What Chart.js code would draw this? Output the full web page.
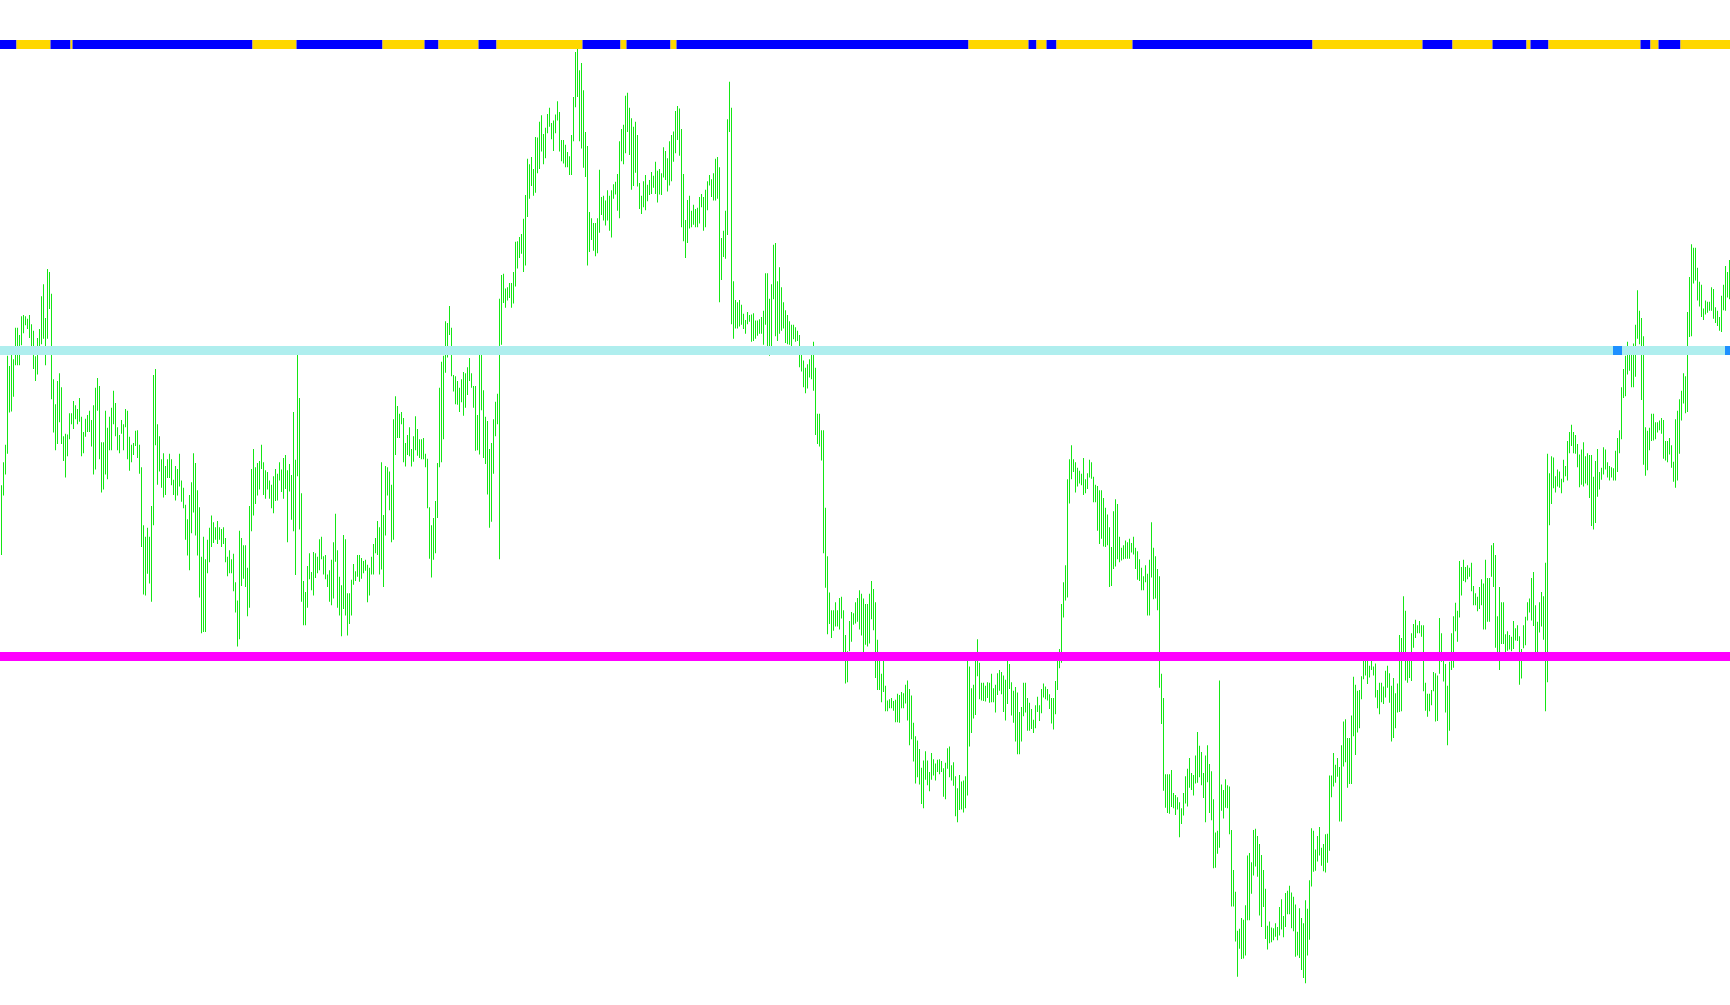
<!DOCTYPE html>
<html>
<head>
<meta charset="utf-8">
<title>bars</title>
<script src="https://cdn.jsdelivr.net/npm/chart.js@4.4.0/dist/chart.umd.min.js"></script>
<style>
  html, body { margin: 0; padding: 0; background: #ffffff; }
  #wrap { width: 1730px; height: 1005px; }
</style>
</head>
<body>
<div id="wrap"><canvas id="myChart" width="1730" height="1005"></canvas></div>
<script>
// one bar per period: high / low
var barHigh = [
  865,903,932,1079,1062,1081,1073,1125,1125,1113,
  1144,1146,1144,1140,1146,1131,1120,1078,1108,1123,
  1177,1197,1141,1222,1217,1181,1040,999,1037,1050,
  1027,946,950,949,984,984,1004,997,991,1009,
  978,953,975,981,988,973,997,1026,1042,1029,
  936,936,988,960,978,993,1021,1001,961,948,
  973,966,991,988,945,932,935,955,956,932,
  895,799,780,795,780,831,1047,1057,966,946,
  908,918,897,908,917,908,874,897,892,917,
  873,861,833,809,849,870,918,902,857,829,
  747,780,743,775,795,815,804,796,806,796,
  793,796,778,747,758,743,752,705,675,790,
  778,766,766,729,831,892,925,895,902,905,
  932,903,890,887,873,866,880,892,884,903,
  891,910,915,890,900,
  882,986,907,1081,1009,
  852,707,689,732,753,722,755,753,747,776,
  780,748,750,718,725,742,771,818,758,714,
  700,783,776,687,687,709,735,723,750,750,
  745,740,742,734,729,747,768,778,806,796,
  903,816,897,895,888,866,974,1012,996,983,
  986,976,935,948,961,925,946,979,958,941,
  941,943,917,909,829,799,811,839,902,1026,
  1069,1079,1136,1133,1161,1125,1047,1045,1037,1026,
  1040,1052,1050,1060,1075,1050,1029,1029,981,1090,
  1089,1022,978,971,925,935,974,1003,1016,1173,
  1212,1214,1190,1192,1199,1199,1217,1267,1268,1275,
  1280,1305,1344,1404,1395,1407,1387,1440,1439,1465,
  1476,1445,1455,1478,1488,1463,1467,1477,1499,1481,
  1435,1435,1427,1415,1408,1443,1506,1580,1585,
  1550,1562,1517,1448,1425,1316,1306,1298,1298,1306,1386,
  1341,1343,1335,1352,1343,1352,1362,1366,1379,1433,
  1453,1460,1508,1513,1488,1471,1457,1465,1443,1364,
  1343,1367,1377,1361,1369,1382,1376,1399,1384,1387,
  1380,1423,1417,1405,1433,1443,1449,1483,1491,1487,
  1453,1379,1303,1336,1343,1318,1328,1321,1323,1341,
  1346,1341,1353,1367,1377,1370,1380,1404,1407,1390,
  1273,1285,1318,1469,1531,1488,1202,1171,1167,1171,
  1163,1148,1138,1151,1146,1147,1149,1137,1137,1139,
  1143,1153,1215,1215,1173,1197,1262,1265,1202,1225,
  1192,1167,1154,1146,1136,1130,1130,1126,1120,1113,
  1093,1071,1059,1065,1073,1093,1102,1059,983,983,
  956,956,828,748,688,659,659,672,659,679,
  681,659,618,591,641,656,654,672,679,692,
  686,678,669,
  669,686,707,694,672,610,575,
  554,575,534,510,512,514,509,511,521,519,
  524,522,536,543,529,518,473,451,444,430,
  399,411,426,411,392,423,413,406,412,413,
  410,398,407,431,434,403,408,385,365,387,
  376,378,385,577,566,530,536,577,611,572,
  539,539,534,540,539,554,530,536,555,560,
  557,551,544,578,570,540,526,532,523,491,
  499,539,539,514,506,496,478,502,516,502,
  529,538,533,529,520,514,514,542,577,595,
  669,705,733,875,908,931,908,903,894,889,
  884,910,875,885,907,903,879,866,864,857,
  857,844,828,817,796,763,822,842,834,780,
  762,766,774,771,777,770,780,762,756,743,
  729,715,733,719,742,804,762,
  748,727,715,
  554,514,388,388,388,395,357,354,350,342,
  332,357,385,397,415,390,387,419,458,435,
  425,390,419,436,405,393,347,292,295,543,
  371,362,380,370,368,296,230,194,130,133,
  151,148,172,254,258,243,296,298,286,273,
  255,230,199,138,145,135,134,142,136,169,
  182,154,192,196,204,193,186,173,128,167,
  151,142,180,166,213,299,295,264,286,301,
  267,273,289,290,386,386,423,404,415,400,
  436,475,479,448,448,485,549,536,526,527,
  550,576,576,575,567,575,566,571,527,539,
  539,533,559,567,555,534,547,522,538,618,
  613,682,658,578,575,621,636,643,634,641,
  634,634,539,521,521,527,557,555,551,646,
  621,
  579,570,534,574,621,649,671,658,740,
  730,742,730,733,729,737,699,687,681,697,
  710,703,742,712,712,766,770,750,649,697,
  672,672,619,624,618,615,641,629,634,616,
  595,634,648,672,678,712,722,667,640,672,
  689,682,737,917,885,913,911,880,891,888,
  876,907,897,938,953,965,953,948,933,916,
  924,936,913,918,915,915,879,905,925,887,
  894,928,924,903,897,895,893,922,943,956,
  1027,1057,1079,1102,1087,1088,1099,1130,1187,1153,
  1141,1111,961,955,960,983,983,969,969,972,
  976,973,938,938,943,931,904,974,988,1007,
  1021,1050,1045,1151,1209,1263,1257,1257,1224,1201,
  1196,1157,1170,1168,1168,1192,1189,1159,1153,1143,
  1178,1196,1227,1217,1237
];
var barLow = [
  750,848,883,917,985,987,1011,1063,1063,1063,
  1096,1116,1129,1123,1108,1088,1057,1037,1048,1095,
  1098,1107,1063,1107,1156,1007,952,923,933,969,
  933,905,878,913,941,966,958,974,966,970,
  913,918,945,953,953,929,883,891,988,908,
  853,858,883,875,923,923,966,946,923,918,
  950,923,961,908,889,903,915,930,910,884,
  763,685,683,719,703,673,799,931,866,888,
  861,845,849,877,877,865,849,840,848,863,
  838,827,775,749,725,786,820,782,749,680,
  621,623,623,720,738,763,770,775,768,775,
  763,768,738,715,720,720,690,655,599,611,
  699,711,697,649,663,789,815,834,848,858,
  892,849,843,858,843,827,819,839,840,873,
  854,843,859,771,855,
  808,789,717,880,792,
  673,634,634,663,710,692,683,712,720,725,
  743,718,710,697,673,667,678,739,663,650,
  616,661,650,617,636,650,701,707,714,706,
  711,720,724,672,683,718,718,753,750,718,
  726,697,782,848,824,771,775,915,943,943,
  966,903,896,915,913,896,904,923,914,910,
  908,908,895,827,744,713,742,753,811,895,
  903,941,1051,1076,1113,1045,1020,999,998,986,
  1002,980,993,1014,1037,1026,993,922,923,916,
  989,910,900,850,795,805,884,946,966,743,
  1097,1166,1158,1170,1174,1158,1165,1193,1223,1240,
  1247,1217,1228,1308,1338,1359,1343,1348,1380,1387,
  1416,1395,1405,1446,1457,1436,1417,1446,1467,1416,
  1400,1396,1390,1390,1377,1377,1433,1489,1506,
  1433,1421,1389,1374,1228,1250,1270,1252,1243,1248,1282,
  1311,1302,1294,1302,1285,1274,1338,1345,1318,1306,
  1400,1395,1413,1448,1410,1353,1359,1381,1358,1321,
  1313,1324,1319,1334,1344,1346,1356,1346,1332,1345,
  1344,1373,1369,1350,1360,1367,1399,1413,1435,1409,
  1291,1268,1240,1265,1289,1291,1295,1291,1291,1297,
  1324,1285,1291,1319,1360,1341,1335,1335,1338,1167,
  1204,1242,1239,1278,1448,1131,1107,1124,1124,1127,
  1130,1123,1115,1131,1135,1102,1103,1107,1112,1115,
  1115,1097,1130,1095,1079,1090,1172,1111,1103,1115,
  1120,1124,1100,1098,1097,1095,1106,1102,1103,1060,
  1053,1027,1017,1025,1043,1040,1021,948,933,929,
  906,753,696,619,636,613,625,632,632,627,
  645,589,538,540,591,607,635,637,640,627,
  617,589,602,
  599,604,644,626,547,527,527,
  507,524,492,492,497,497,493,474,474,473,
  497,497,505,477,436,446,409,373,383,371,
  339,332,379,370,360,379,386,378,392,388,
  392,351,347,397,383,378,369,319,309,329,
  330,325,332,353,434,456,480,486,550,512,
  510,509,508,514,506,507,507,490,519,526,
  520,491,477,504,529,485,473,442,421,421,
  442,484,490,460,460,463,456,464,491,476,
  489,515,512,510,496,472,462,487,527,563,
  572,647,675,680,835,875,887,853,863,868,
  865,849,852,859,878,876,837,837,790,768,
  777,764,763,766,697,699,727,731,743,738,
  741,743,744,744,744,754,751,727,709,707,
  692,692,705,650,650,713,677,
  678,659,531,
  471,361,333,324,323,334,332,321,330,284,
  306,320,340,335,366,362,353,373,374,383,
  370,349,309,375,324,312,233,234,257,267,
  328,315,333,332,289,170,170,112,54,100,
  83,84,89,147,147,191,221,236,219,155,
  136,169,116,99,109,111,114,120,114,122,
  132,119,136,157,157,134,129,87,89,85,
  65,52,43,89,115,203,227,229,244,254,
  237,228,226,242,262,350,368,374,384,310,
  310,401,408,366,372,372,451,420,457,464,
  512,545,551,537,548,560,551,515,497,487,
  507,504,515,531,506,442,448,464,490,491,
  492,589,543,539,547,542,597,613,621,621,
  615,525,493,483,492,502,525,475,476,554,
  574,
  541,490,436,460,560,564,624,607,647,
  683,707,705,710,714,690,667,667,657,661,
  667,627,627,640,640,714,697,597,590,560,
  603,603,589,592,594,591,595,609,608,536,
  546,596,601,642,655,642,633,590,590,622,
  632,610,492,540,799,834,860,853,863,861,
  852,870,880,873,918,930,918,917,895,862,
  866,863,868,865,844,798,792,803,846,858,
  874,883,891,878,873,878,873,873,887,918,
  941,1009,1012,1048,1054,1027,1027,1044,1107,1098,
  1006,899,881,890,923,938,939,941,952,956,
  950,909,906,903,916,894,871,861,873,917,
  972,1000,984,986,1110,1111,1198,1203,1170,1160,
  1143,1138,1147,1150,1153,1153,1140,1133,1128,1120,
  1118,1154,1153,1175,1172
];

// trend band on top: bar where each run starts, 1 = up (gold), 0 = down (blue)
var bandStart = [0, 8, 25, 35, 36, 126, 148, 191, 212, 219, 239, 248, 291, 310, 313, 335, 338,
                 484, 514, 518, 523, 528, 566, 656, 711, 726, 746, 763, 765, 774, 820, 825, 829, 840];
var bandUp = [0, 1, 0, 1, 0, 1, 0, 1, 0, 1, 0, 1, 0, 1, 0, 1, 0,
              1, 0, 1, 0, 1, 0, 1, 0, 1, 0, 1, 0, 1, 0, 1, 0, 1];

// horizontal levels and signal bars
var levelUpper = 1087.5;
var levelLower = 582.5;
var signalBars = [808, 864];

var nBars = barHigh.length;
var xMin = -0.75;
var xMax = nBars - 0.75;
var bandY = 1592.57;

var bars = [];
for (var i = 0; i < nBars; i++) {
    bars.push({x: i, y: [barLow[i], barHigh[i]]});
}

var bandPts = [];
for (var k = 0; k < bandStart.length; k++) {
    bandPts.push({x: k == 0 ? xMin : bandStart[k] - 0.5, y: bandY});
}
bandPts.push({x: xMax, y: bandY});

var signals = signalBars.map(function(b) { return {x: b, y: levelUpper}; });

var ctx = document.getElementById('myChart').getContext('2d');
var chart = new Chart(ctx, {
    type: 'bar',
    data: {
        datasets: [{
            label: 'bars',
            data: bars,
            backgroundColor: '#14e614',
            borderWidth: 0,
            barThickness: 1,
            inflateAmount: 0,
            grouped: false,
            order: 10
        }, {
            type: 'line',
            label: 'band',
            data: bandPts,
            borderWidth: 9,
            borderCapStyle: 'butt',
            pointRadius: 0,
            tension: 0,
            segment: {
                borderColor: function(c) { return bandUp[c.p0DataIndex] ? '#ffd700' : '#0000ff'; }
            },
            order: 3
        }, {
            type: 'line',
            label: 'upper',
            data: [{x: xMin, y: levelUpper}, {x: xMax, y: levelUpper}],
            borderColor: '#afeeee',
            borderWidth: 9,
            borderCapStyle: 'butt',
            pointRadius: 0,
            order: 2
        }, {
            type: 'line',
            label: 'lower',
            data: [{x: xMin, y: levelLower}, {x: xMax, y: levelLower}],
            borderColor: '#ff00ff',
            borderWidth: 9,
            borderCapStyle: 'butt',
            pointRadius: 0,
            order: 2
        }, {
            type: 'line',
            label: 'signal',
            data: signals,
            showLine: false,
            pointStyle: 'rect',
            pointRadius: 6.364,
            pointBorderWidth: 0,
            pointBackgroundColor: '#1e90ff',
            order: 0
        }]
    },
    options: {
        responsive: false,
        animation: false,
        devicePixelRatio: 1,
        events: [],
        layout: { padding: 0, autoPadding: false },
        plugins: {
            legend: { display: false },
            tooltip: { enabled: false }
        },
        scales: {
            x: { type: 'linear', min: xMin, max: xMax, offset: false, display: false },
            y: { type: 'linear', min: 7.27, max: 1666.02, display: false }
        }
    }
});
</script>
</body>
</html>
